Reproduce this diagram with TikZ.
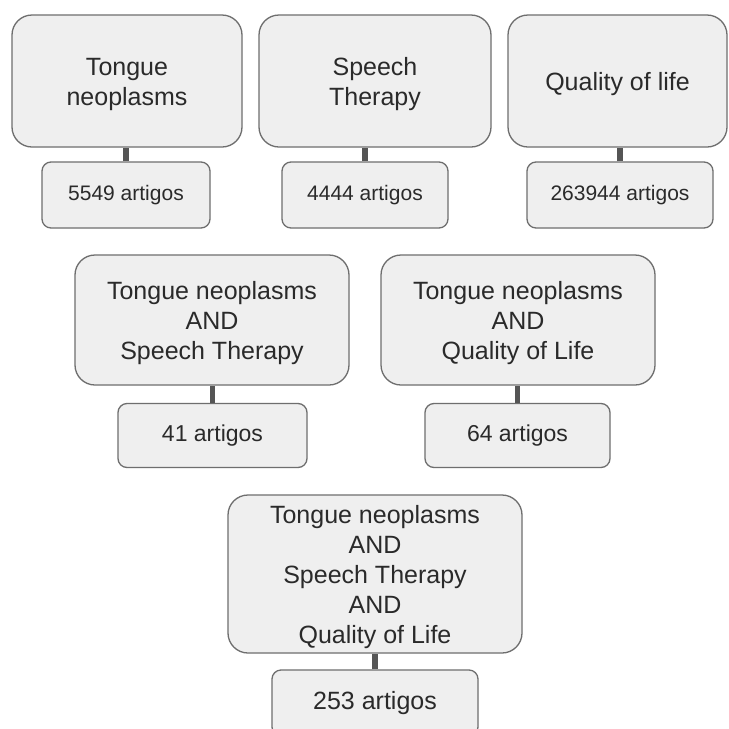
\documentclass[tikz,border=0pt]{standalone}
\usepackage{fontspec}
\setmainfont{Liberation Sans}
\definecolor{boxfill}{HTML}{EFEFEF}
\definecolor{boxline}{HTML}{6E6E6E}
\definecolor{linkc}{HTML}{555555}
\definecolor{txt}{HTML}{2A2A2A}
\newcommand{\boxlines}[1]{\raisebox{-3.5pt}[\height][\depth]{\begin{tabular}{@{}c@{}}#1\end{tabular}}}
\begin{document}
\begin{tikzpicture}[x=1pt,y=-1pt,
  bigbox/.style={draw=boxline, fill=boxfill, line width=1.3pt, rounded corners=20pt,
    inner sep=0pt, text=txt, font=\fontsize{25}{30}\selectfont},
  smallbox/.style={draw=boxline, fill=boxfill, line width=1.3pt, rounded corners=9pt,
    inner sep=0pt, align=center, text=txt},
  link/.style={draw=linkc, line width=5.5pt}]
\clip (0,0) rectangle (729,729);
\fill[white] (0,0) rectangle (729,729);
% row 1
\node[bigbox, minimum width=230pt, minimum height=132pt] (b1) at (127,81) {\boxlines{Tongue\\neoplasms}};
\node[smallbox, minimum width=168pt, minimum height=66pt, font=\fontsize{21}{25}\selectfont] (s1) at (126,195) {5549 artigos};
\node[bigbox, minimum width=232pt, minimum height=132pt] (b2) at (375,81) {\boxlines{Speech\\Therapy}};
\node[smallbox, minimum width=166pt, minimum height=66pt, font=\fontsize{21}{25}\selectfont] (s2) at (365,195) {4444 artigos};
\node[bigbox, minimum width=219pt, minimum height=132pt] (b3) at (617.5,81) {\boxlines{Quality of life}};
\node[smallbox, minimum width=186pt, minimum height=66pt, font=\fontsize{21}{25}\selectfont] (s3) at (620,195) {263944 artigos};
% row 2
\node[bigbox, minimum width=274pt, minimum height=130pt] (b4) at (212,320) {\boxlines{Tongue neoplasms\\AND\\Speech Therapy}};
\node[smallbox, minimum width=189pt, minimum height=64pt, font=\fontsize{23}{27}\selectfont] (s4) at (212.5,435.5) {41 artigos};
\node[bigbox, minimum width=274pt, minimum height=130pt] (b5) at (518,320) {\boxlines{Tongue neoplasms\\AND\\Quality of Life}};
\node[smallbox, minimum width=185pt, minimum height=64pt, font=\fontsize{23}{27}\selectfont] (s5) at (517.5,435.5) {64 artigos};
% row 3
\node[bigbox, minimum width=294pt, minimum height=158pt] (b6) at (375,574) {\boxlines{Tongue neoplasms\\AND\\Speech Therapy\\AND\\Quality of Life}};
\node[smallbox, minimum width=206pt, minimum height=66pt, font=\fontsize{25}{30}\selectfont] (s6) at (375,703) {253 artigos};
% connectors
\draw[link] (s1.north) -- (s1.north |- b1.south);
\draw[link] (s2.north) -- (s2.north |- b2.south);
\draw[link] (s3.north) -- (s3.north |- b3.south);
\draw[link] (s4.north) -- (s4.north |- b4.south);
\draw[link] (s5.north) -- (s5.north |- b5.south);
\draw[link] (s6.north) -- (s6.north |- b6.south);
\end{tikzpicture}
\end{document}
